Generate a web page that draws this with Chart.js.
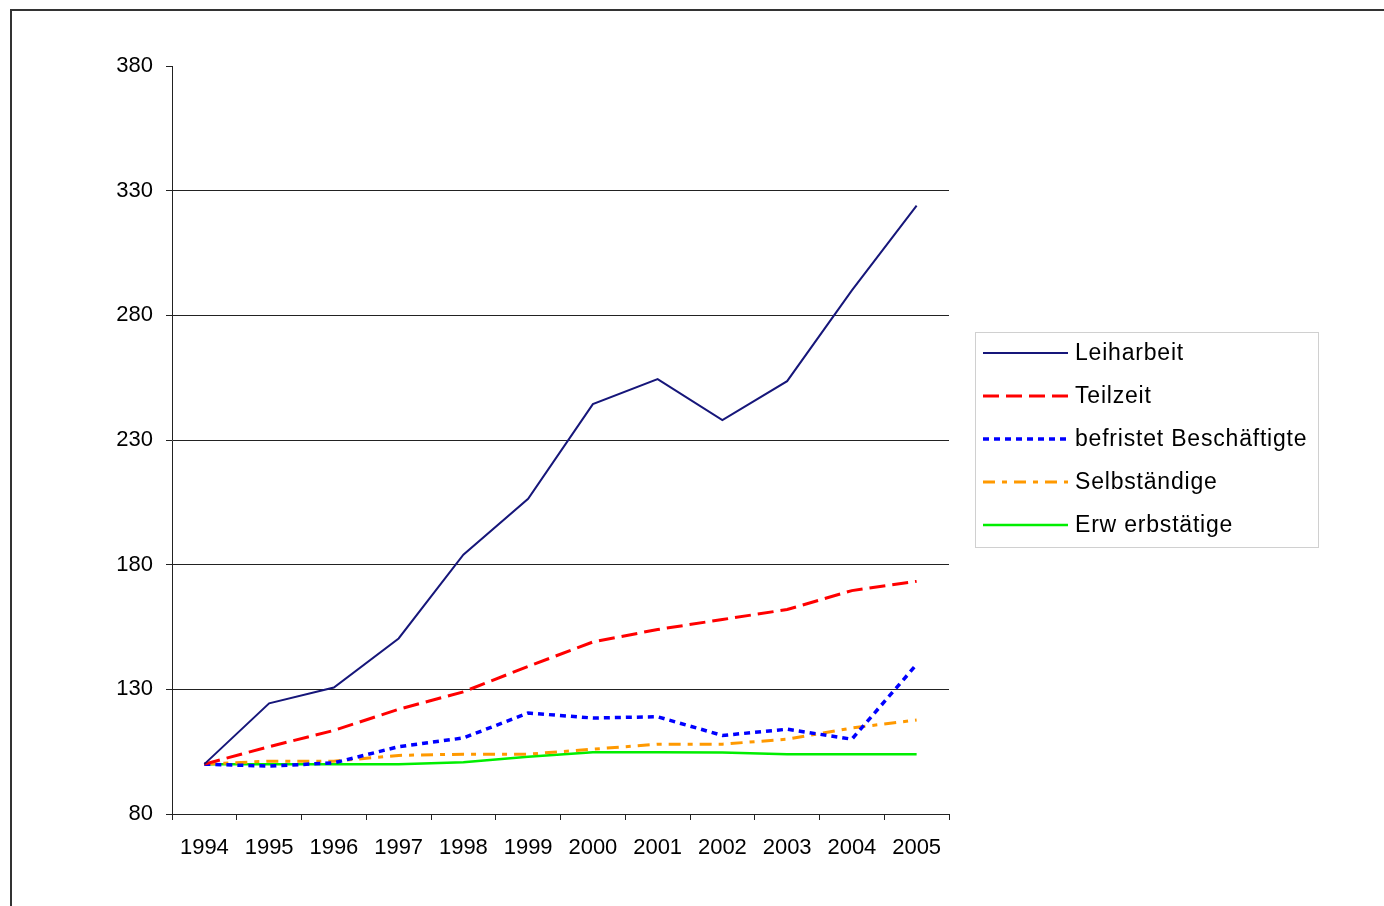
<!DOCTYPE html>
<html>
<head>
<meta charset="utf-8">
<title>Beschäftigungsformen 1994-2005</title>
<script src="https://cdn.jsdelivr.net/npm/chart.js@4.4.0/dist/chart.umd.min.js"></script>
<style>
  html, body { margin: 0; padding: 0; background: #fff; }
  #wrap { width: 1384px; height: 906px; }
</style>
</head>
<body>
<div id="wrap"><canvas id="chart" width="1384" height="906"></canvas></div>
<script>
const years = ['1994', '1995', '1996', '1997', '1998', '1999', '2000', '2001', '2002', '2003', '2004', '2005'];
const leiharbeit = [100, 124.4, 130.7, 150.4, 184, 206.4, 244.4, 254.4, 238, 253.6, 290, 324];
const teilzeit = [100, 107, 113.5, 122, 129, 139.2, 149, 154, 158, 162, 169.6, 173.3];
const befristet = [100, 99.2, 100.5, 107, 110.5, 120.5, 118.5, 119, 111.5, 114, 110, 140];
const selbstaendige = [100, 101.2, 101.2, 103.5, 104, 104, 106, 108, 108, 110, 114.5, 117.7];
const erwerbstaetige = [100, 100, 100, 100, 100.8, 103, 104.8, 104.8, 104.7, 104, 104, 104];
const yMin = 80;
const yMax = 380;
const yStep = 50;

const FONT = "'Liberation Sans', Arial, sans-serif";

function line(label, data, color, width, dash) {
  return {
    label,
    data,
    borderColor: color,
    backgroundColor: color,
    borderWidth: width,
    borderDash: dash,
    pointRadius: 0,
    tension: 0,
    fill: false,
  };
}

// frame around the whole chart and the boxed legend on the right
const excelLook = {
  id: 'excelLook',
  beforeDraw(chart) {
    const { ctx } = chart;
    ctx.save();
    ctx.fillStyle = '#fff';
    ctx.fillRect(0, 0, chart.width, chart.height);
    ctx.strokeStyle = '#333';
    ctx.lineWidth = 2;
    ctx.strokeRect(11, 10, chart.width + 20, chart.height + 20);
    ctx.restore();
  },
  afterDraw(chart) {
    const { ctx } = chart;
    const box = { x: 975, y: 332, w: 343, h: 215 };
    ctx.save();
    ctx.strokeStyle = '#d0d0d0';
    ctx.lineWidth = 1;
    ctx.strokeRect(box.x + 0.5, box.y + 0.5, box.w, box.h);
    ctx.font = `23px ${FONT}`;
    ctx.letterSpacing = '0.8px';
    ctx.textBaseline = 'middle';
    ctx.fillStyle = '#000';
    chart.data.datasets.forEach((ds, i) => {
      const y = 353 + i * 43;
      ctx.beginPath();
      ctx.strokeStyle = ds.borderColor;
      ctx.lineWidth = ds.borderWidth;
      ctx.setLineDash(ds.borderDash || []);
      ctx.moveTo(983, y);
      ctx.lineTo(1068, y);
      ctx.stroke();
      ctx.setLineDash([]);
      ctx.fillText(ds.label, 1075, y + 1);
    });
    ctx.restore();
  },
};

new Chart(document.getElementById('chart'), {
  type: 'line',
  data: {
    labels: years,
    datasets: [
      line('Leiharbeit', leiharbeit, '#16167a', 2, []),
      line('Teilzeit', teilzeit, '#ff0000', 3, [16, 7]),
      line('befristet Beschäftigte', befristet, '#0000ff', 3.5, [6, 5]),
      line('Selbständige', selbstaendige, '#ff9900', 3, [12, 7, 5, 7]),
      line('Erw erbstätige', erwerbstaetige, '#00ee00', 2.5, []),
    ],
  },
  options: {
    responsive: false,
    animation: false,
    devicePixelRatio: 1,
    layout: { padding: { left: 0, top: 66, right: 435, bottom: 0 } },
    plugins: {
      legend: { display: false },
      tooltip: { enabled: false },
    },
    scales: {
      x: {
        offset: true,
        grid: {
          offset: true,
          drawOnChartArea: false,
          tickLength: 6,
          tickColor: '#222',
        },
        border: { color: '#222', width: 1 },
        ticks: {
          color: '#000',
          padding: 15,
          maxRotation: 0,
          autoSkip: false,
          font: { family: FONT, size: 22 },
        },
        afterFit(scale) { scale.height = 92; },
      },
      y: {
        min: yMin,
        max: yMax,
        grid: {
          color: (c) => (c.tick && c.tick.value === yMax ? 'rgba(0,0,0,0)' : '#222'),
          tickColor: '#222',
          tickLength: 6,
          lineWidth: 1,
        },
        border: { color: '#222', width: 1 },
        ticks: {
          stepSize: yStep,
          color: '#000',
          padding: 13,
          font: { family: FONT, size: 22 },
        },
        afterFit(scale) { scale.width = 172; },
      },
    },
  },
  plugins: [excelLook],
});
</script>
</body>
</html>
